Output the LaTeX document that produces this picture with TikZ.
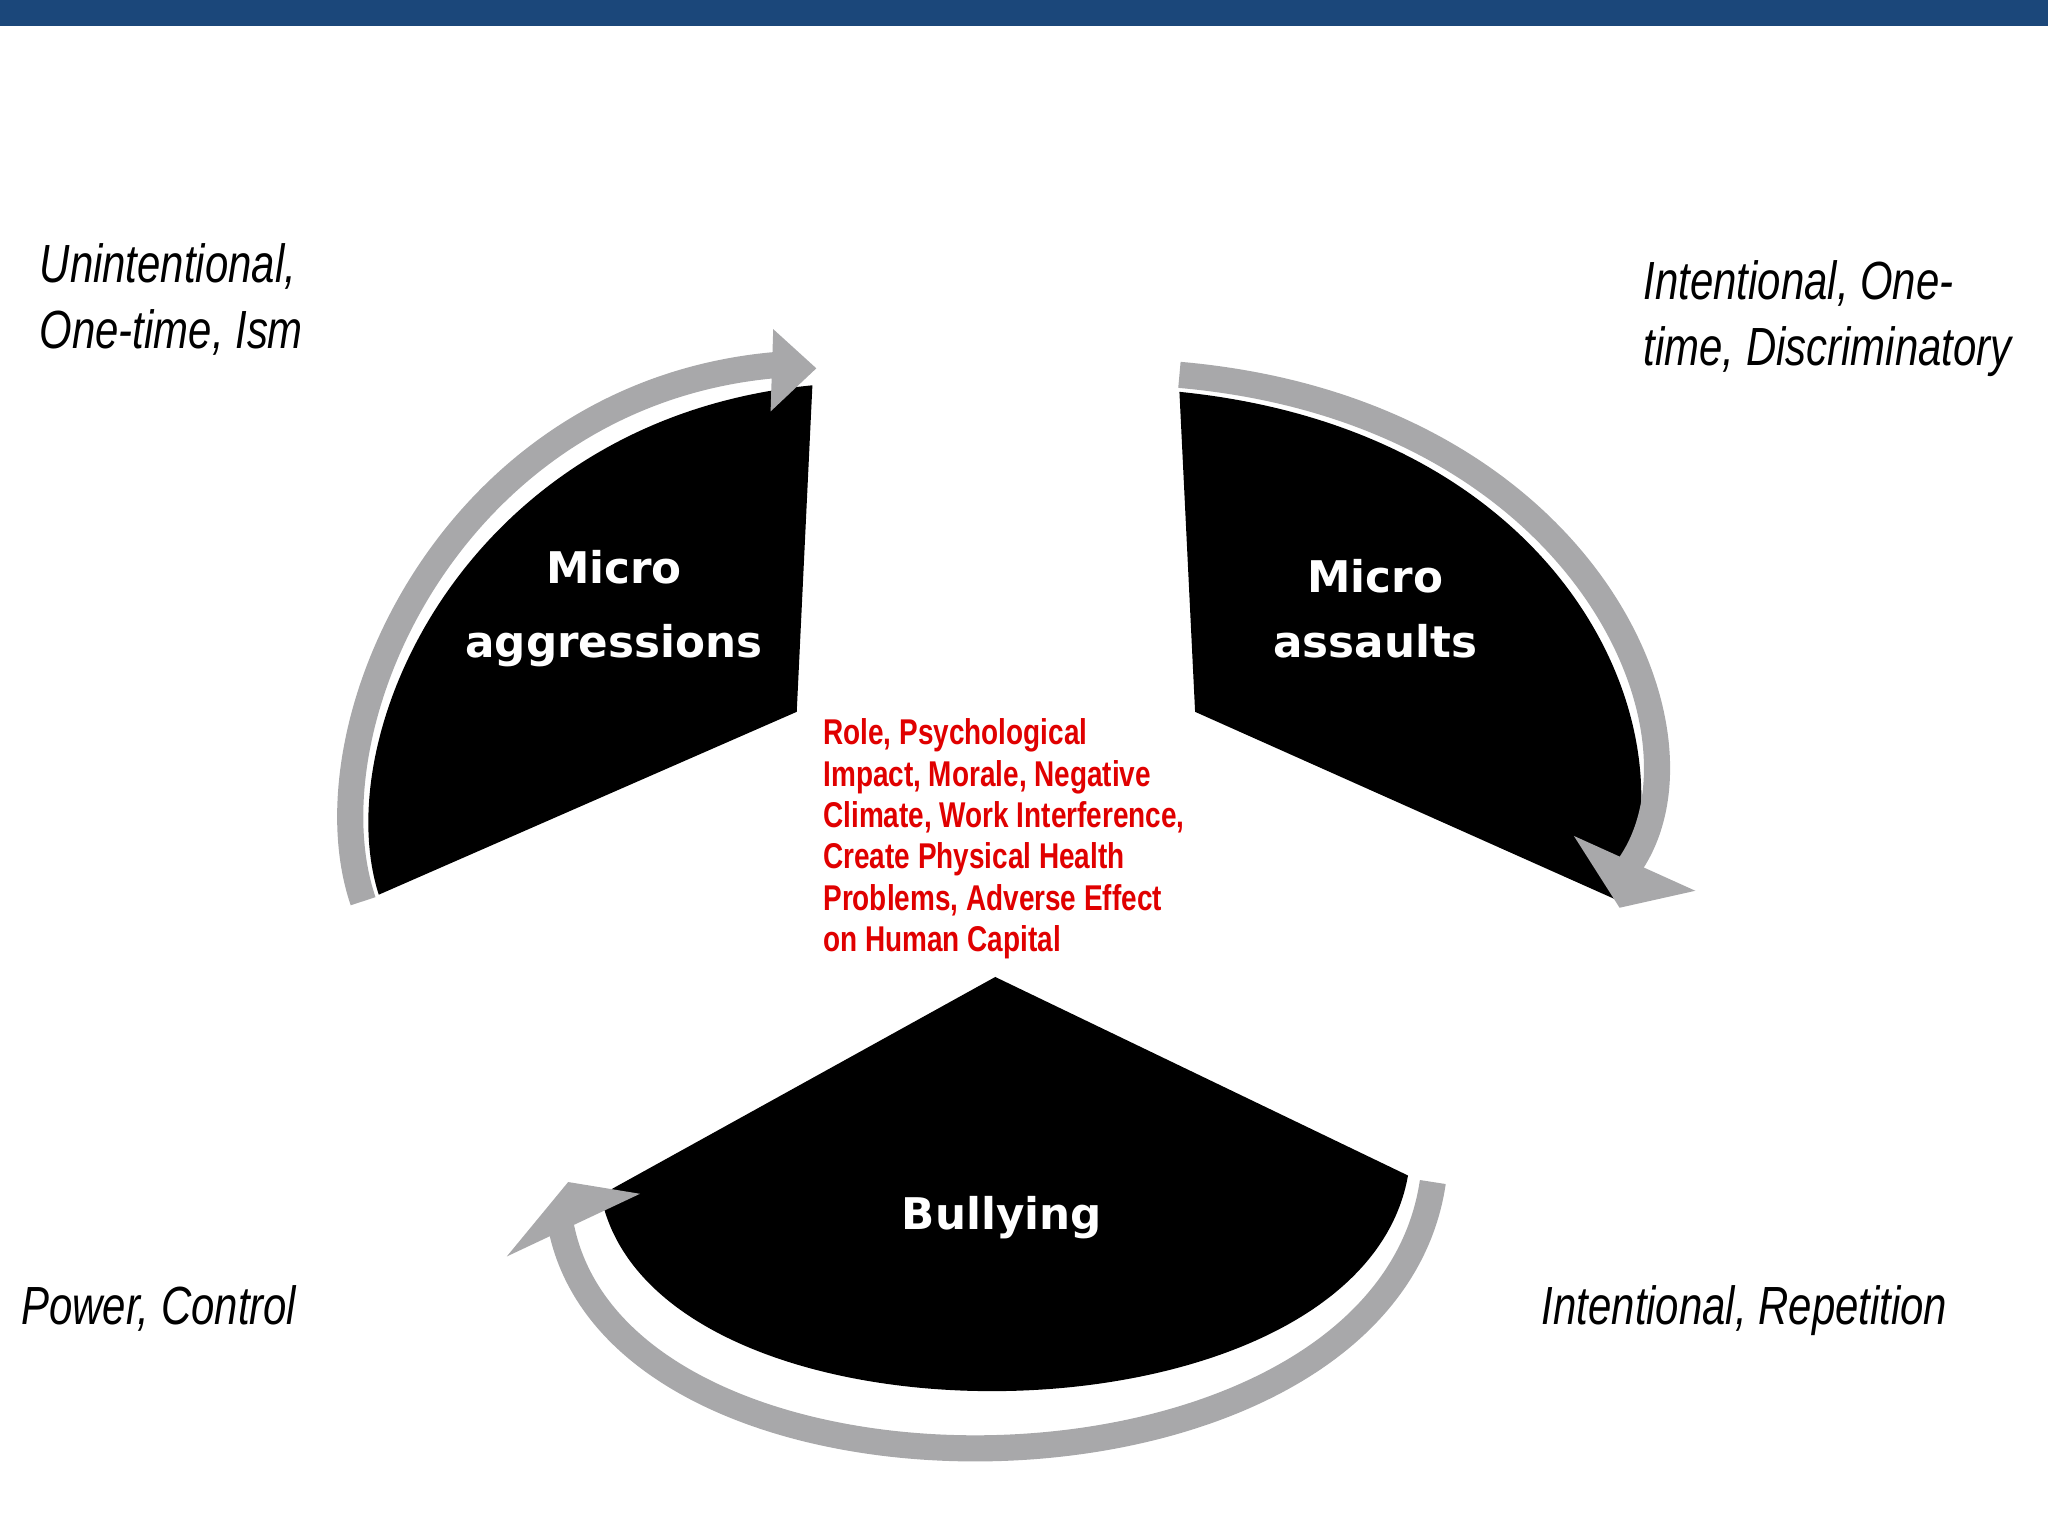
\documentclass[tikz,border=0pt]{standalone}
\usepackage{fontspec}
\setmainfont{Liberation Sans}
\newfontfamily\narrow[FakeStretch=0.78]{Liberation Sans}
\newfontfamily\wide{DejaVu Sans}
\definecolor{barblue}{HTML}{1B477A}
\definecolor{band}{HTML}{A8A8AA}
\definecolor{redtxt}{HTML}{E00000}
\begin{document}
\begin{tikzpicture}[x=0.01cm,y=-0.01cm,
  sect/.style={fill=black},
  bandline/.style={draw=band,line width=0.2cm},
  tip/.style={fill=band},
  side/.style={font=\narrow\itshape\fontsize{11.7}{14.3}\selectfont,align=left,anchor=north west},
  inner/.style={font=\wide\bfseries\fontsize{9.5}{14}\selectfont,text=white,align=center}]
\useasboundingbox (0,0) rectangle (1568,1176);
\fill[barblue] (0,0) rectangle (1568,20);
% top-left sector
\fill[sect] (622,295) -- (610,545) -- (290,685) .. controls (250,560) and (360,320) .. (622,295) -- cycle;
\draw[bandline] (278,690) .. controls (232,555) and (348,297) .. (600,279);
\fill[tip] (592,252) -- (625,282) -- (590,315) -- cycle;
% top-right sector
\fill[sect] (903,300) -- (915,545) -- (1240,690) .. controls (1300,560) and (1200,330) .. (903,300) -- cycle;
\draw[bandline] (903,287) .. controls (1212,314) and (1318,560) .. (1248,662);
\fill[tip] (1205,640) -- (1298,682) -- (1240,695) -- cycle;
% bottom sector
\fill[sect] (762,748) -- (1078,900) .. controls (1040,1115) and (500,1120) .. (460,915) -- cycle;
\draw[bandline] (1097,905) .. controls (1058,1170) and (462,1175) .. (428,930);
\fill[tip] (388,962) -- (435,905) -- (490,914) -- cycle;
% labels
\node[inner] (ma) at (470,466) {Micro\\[2pt]aggressions};
\node[inner] (ms) at (1053,466) {Micro\\assaults};
\node[inner] (bu) at (767,932) {Bullying};
\node[font=\narrow\bfseries\fontsize{7.8}{9}\selectfont,text=redtxt,align=left,anchor=north west] (c) at (618,538) {Role, Psychological\\Impact, Morale, Negative\\Climate, Work Interference,\\Create Physical Health\\Problems, Adverse Effect\\on Human Capital};
\node[side] (t1) at (18,174) {Unintentional,\\One-time, Ism};
\node[side] (t2) at (1246,187) {Intentional, One-\\time, Discriminatory};
\node[side] (t3) at (4,972) {Power, Control};
\node[side] (t4) at (1168,972) {Intentional, Repetition};
\end{tikzpicture}
\end{document}
